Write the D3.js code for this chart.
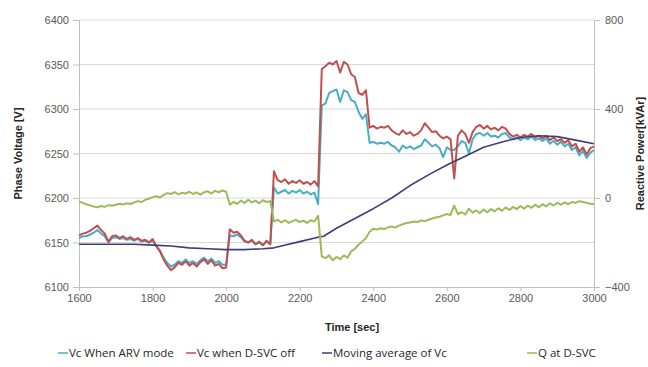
<!DOCTYPE html>
<html>
<head>
<meta charset="utf-8">
<script src="https://cdn.jsdelivr.net/npm/d3@7"></script>
<style>
  body { margin: 0; background: #fff; }
  .title { font-family: "Liberation Sans", Arial, sans-serif; font-size: 11px; font-weight: bold; fill: #262626; }
  .legend text { font-family: "Open Sans", sans-serif; font-size: 11.5px; fill: #262626; }
</style>
</head>
<body>
<div id="chart"></div>
<script>
// sample times, 10 s apart
var time = d3.range(1600, 3001, 10);

// Vc When ARV mode [V]
var vcArv = [
  6155,6157,6157,6159,6161,6164,6160,6157,6150,6155,
  6156,6154,6155,6153,6154,6152,6154,6151,6152,6150,
  6152,6146,6141,6133,6127,6123,6125,6129,6127,6131,
  6127,6129,6126,6130,6133,6129,6132,6127,6129,6125,
  6125,6158,6157,6159,6156,6151,6150,6152,6148,6150,
  6147,6151,6148,6212,6205,6207,6209,6205,6208,6206,
  6209,6205,6207,6204,6206,6193,6304,6306,6318,6320,
  6322,6308,6321,6319,6310,6308,6297,6289,6294,6262,
  6263,6261,6262,6261,6263,6259,6257,6252,6259,6256,
  6258,6255,6257,6259,6266,6262,6258,6260,6256,6246,
  6257,6254,6254,6258,6264,6262,6250,6266,6272,6273,
  6270,6273,6269,6270,6268,6272,6273,6268,6266,6268,
  6265,6268,6266,6269,6265,6267,6264,6267,6261,6264,
  6260,6263,6258,6261,6254,6257,6248,6253,6245,6251,
  6254
];

// Vc when D-SVC off [V]
var vcOff = [
  6158,6160,6161,6163,6166,6169,6164,6160,6151,6157,
  6158,6155,6157,6154,6156,6153,6155,6152,6153,6150,
  6154,6146,6140,6131,6124,6119,6122,6127,6125,6129,
  6124,6127,6123,6128,6131,6126,6130,6124,6126,6121,
  6122,6165,6161,6162,6158,6152,6150,6153,6148,6151,
  6147,6152,6148,6230,6220,6218,6221,6216,6219,6217,
  6220,6216,6218,6215,6219,6213,6345,6348,6352,6350,
  6354,6341,6353,6350,6339,6336,6318,6316,6321,6279,
  6281,6278,6280,6279,6281,6276,6273,6271,6276,6272,
  6274,6270,6272,6276,6284,6279,6274,6275,6270,6267,
  6269,6266,6222,6270,6276,6272,6262,6274,6280,6282,
  6278,6281,6277,6279,6276,6280,6278,6272,6269,6271,
  6268,6271,6269,6272,6268,6270,6267,6270,6265,6268,
  6264,6266,6262,6265,6258,6261,6252,6257,6249,6256,
  6258
];

// Q at D-SVC [kVAr]
var qSvc = [
  -15,-22,-28,-33,-38,-42,-36,-40,-32,-35,
  -30,-26,-29,-24,-27,-20,-14,-18,-8,-3,
  4,8,2,14,22,18,26,16,24,20,
  28,18,25,15,26,30,20,32,25,34,
  28,-30,-18,-26,-12,-22,-8,-20,-12,-24,
  -10,-18,-14,-105,-98,-110,-100,-112,-104,-98,
  -108,-102,-112,-100,-106,-80,-262,-270,-258,-280,
  -265,-275,-258,-268,-240,-228,-210,-196,-180,-152,
  -138,-142,-136,-140,-132,-128,-133,-124,-118,-112,
  -110,-106,-108,-101,-104,-98,-92,-88,-84,-78,
  -72,-76,-34,-72,-64,-74,-48,-66,-56,-68,
  -52,-64,-50,-60,-46,-58,-42,-54,-40,-50,
  -36,-48,-34,-44,-30,-42,-28,-38,-24,-34,
  -22,-30,-20,-28,-18,-22,-14,-18,-22,-26,
  -28
];

// Moving average of Vc [V]
var maTime = [1600,1650,1700,1750,1800,1850,1900,1950,2000,2050,2100,2130,2150,2200,2250,2265,
              2300,2350,2400,2450,2500,2550,2600,2650,2700,2750,2800,2850,2900,2950,3000];
var maVc   = [6148,6148,6148,6148,6147,6146,6144,6143,6142,6142,6143,6144,6146,6151,6156,6157,
              6166,6177,6188,6200,6214,6226,6237,6247,6257,6263,6268,6270,6269,6265,6261];

var xTicks = [1600,1800,2000,2200,2400,2600,2800,3000];
var yTicks = [6100,6150,6200,6250,6300,6350,6400];
var y2Ticks = [-400,0,400,800];

var legendNames = ["Vc When ARV mode", "Vc when D-SVC off", "Moving average of Vc", "Q at D-SVC"];
var colors = ["#4bacc6", "#c0504d", "#3f3d78", "#9bbb59"];

var margin = {top: 20, right: 54, bottom: 80, left: 79},
    width = 648 - margin.left - margin.right,
    height = 367 - margin.top - margin.bottom;

var svg = d3.select("#chart").append("svg")
    .attr("width", 648)
    .attr("height", 367);

var g = svg.append("g")
    .attr("transform", "translate(" + margin.left + "," + margin.top + ")");

var x = d3.scaleLinear().domain([1600, 3000]).range([0, width]);
var y = d3.scaleLinear().domain([6100, 6400]).range([height, 0]);
var y2 = d3.scaleLinear().domain([-400, 800]).range([height, 0]);

// gridlines
g.selectAll(".grid")
    .data(yTicks.slice(1))
    .enter().append("line")
    .attr("x1", 0).attr("x2", width)
    .attr("y1", function(d) { return y(d); })
    .attr("y2", function(d) { return y(d); })
    .style("stroke", "#d9d9d9")
    .style("stroke-width", 1);

// axes
var xAxis = g.append("g")
    .attr("transform", "translate(0," + height + ")")
    .call(d3.axisBottom(x).tickValues(xTicks).tickSize(4).tickPadding(3).tickFormat(d3.format("d")));
var yAxis = g.append("g")
    .call(d3.axisLeft(y).tickValues(yTicks).tickSize(6).tickPadding(4).tickFormat(d3.format("d")));
var y2Axis = g.append("g")
    .attr("transform", "translate(" + width + ",0)")
    .call(d3.axisRight(y2).tickValues(y2Ticks).tickSize(6).tickPadding(5).tickFormat(d3.format("d")));

[xAxis, yAxis, y2Axis].forEach(function(a) {
    a.select(".domain").style("stroke", "#bfbfbf");
    a.selectAll(".tick line").style("stroke", "#bfbfbf");
    a.selectAll(".tick text")
        .style("font-family", "'Liberation Sans', Arial, sans-serif")
        .style("font-size", "11px")
        .style("fill", "#595959");
});

// series
var line = d3.line()
    .x(function(d) { return x(d[0]); })
    .y(function(d) { return y(d[1]); });
var line2 = d3.line()
    .x(function(d) { return x(d[0]); })
    .y(function(d) { return y2(d[1]); });

var series = [
    {pts: d3.zip(time, vcArv), fn: line, w: 2},
    {pts: d3.zip(time, vcOff), fn: line, w: 2},
    {pts: d3.zip(maTime, maVc), fn: line, w: 1.6},
    {pts: d3.zip(time, qSvc), fn: line2, w: 2}
];

series.forEach(function(s, i) {
    g.append("path")
        .attr("d", s.fn(s.pts))
        .style("fill", "none")
        .style("stroke", colors[i])
        .style("stroke-width", s.w)
        .style("stroke-linejoin", "round");
});

// axis titles
svg.append("text")
    .attr("class", "title")
    .attr("text-anchor", "middle")
    .attr("x", 352)
    .attr("y", 331)
    .text("Time [sec]");

svg.append("text")
    .attr("class", "title")
    .attr("text-anchor", "middle")
    .attr("transform", "translate(22," + (margin.top + height / 2) + ") rotate(-90)")
    .text("Phase  Voltage [V]");

svg.append("text")
    .attr("class", "title")
    .attr("text-anchor", "middle")
    .attr("transform", "translate(644," + (margin.top + height / 2) + ") rotate(-90)")
    .text("Reactive Power[kVAr]");

// legend
var legendX = [58, 186, 322, 527];
var legend = svg.append("g").attr("class", "legend");
legendNames.forEach(function(name, i) {
    legend.append("line")
        .attr("x1", legendX[i]).attr("x2", legendX[i] + 10)
        .attr("y1", 353).attr("y2", 353)
        .style("stroke", colors[i])
        .style("stroke-width", 1.5);
    legend.append("text")
        .attr("x", legendX[i] + 11)
        .attr("y", 357)
        .text(name);
});
</script>
</body>
</html>
